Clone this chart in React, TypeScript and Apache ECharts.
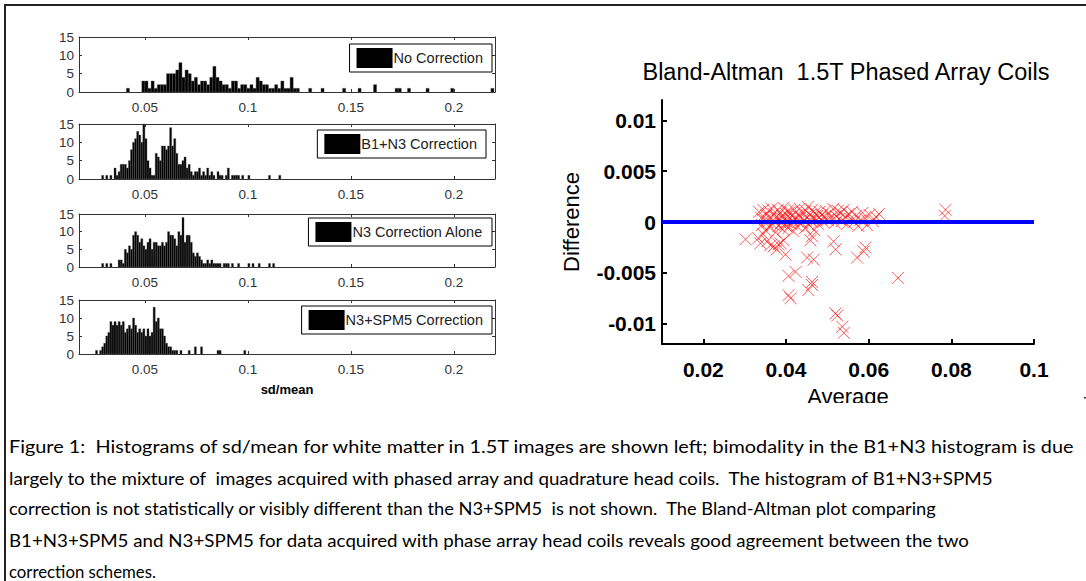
import { useEffect, useRef } from 'react';
import * as echarts from 'echarts';

const W = 1086;
const H = 581;
const FONT = "'Liberation Sans', Arial, Helvetica, sans-serif";

// ---------- Histogram data ----------
const HIST_NAMES = ['No Correction', 'B1+N3 Correction', 'N3 Correction Alone', 'N3+SPM5 Correction'];
const HIST_STARTS = [0.02, 0.029, 0.029, 0.026];
const HIST_BIN_WIDTHS = [0.0015, 0.001, 0.001, 0.001];

const NO_CORRECTION_COUNTS = [
  0, 0, 0, 0, 0, 0, 0, 0, 0, 0, 0, 0, 0, 0, 1, 0, 0, 0, 0,
  3, 3, 1, 3, 1, 2, 2, 2, 5, 5, 5, 6, 8, 4, 6, 5, 3, 4, 2, 3,
  3, 2, 4, 7, 4, 3, 2, 2, 1, 3, 3, 1, 2, 2, 1, 2, 1, 4, 3, 2,
  2, 1, 1, 2, 1, 3, 1, 1, 4, 1, 1,
  0, 0, 0, 1, 0, 0, 0, 1, 0, 0, 0, 0, 0, 0, 1, 0, 0, 0, 0, 1,
  0, 0, 0, 0, 2, 0, 0, 0, 0, 0, 0, 1, 1, 0, 0, 1, 0, 0, 0, 0,
  0, 1, 0, 0, 0, 0, 0, 0, 0, 1, 0, 0, 0, 0, 0, 0, 0, 0, 0, 0,
  0, 0, 1,
];
const B1N3_COUNTS = [
  1, 0, 1, 0, 1, 0, 3, 1, 2, 4,
  4, 4, 3, 5, 8, 10, 11, 13, 12, 10,
  15, 11, 5, 3, 1, 1, 7, 6, 5, 9,
  9, 8, 9, 14, 9, 11, 7, 4, 4, 5,
  6, 3, 4, 2, 1, 2, 2, 3, 1, 2,
  1, 3, 1, 2, 1, 0, 2, 1, 1, 0,
  1, 3, 0, 1, 1, 1, 1, 0, 1, 0,
  0, 1, 0, 0, 0, 0, 0, 0, 0, 0,
  0, 1, 0, 0, 0, 0, 1,
];
const N3_ALONE_COUNTS = [
  1, 0, 1, 0, 1, 0, 0, 0, 2, 2,
  1, 5, 4, 6, 5, 9, 10, 9, 7, 8,
  6, 5, 7, 8, 5, 7, 7, 6, 6, 7,
  6, 7, 10, 9, 9, 8, 6, 10, 9, 14,
  7, 9, 9, 7, 4, 3, 4, 3, 2, 1,
  1, 2, 1, 2, 1, 1, 1, 1, 0, 1,
  1, 1, 0, 1, 0, 0, 1, 0, 0, 0,
  0, 1, 0, 1, 0, 0, 1, 0, 0, 0,
  0, 1, 0, 1,
];
const N3SPM5_COUNTS = [
  1, 0, 1, 2, 3, 5, 6, 9, 8, 9,
  8, 9, 8, 9, 6, 7, 8, 7, 10, 8,
  6, 7, 6, 7, 5, 7, 5, 6, 13, 9,
  10, 7, 7, 5, 3, 2, 2, 1, 1, 1,
  0, 1, 0, 0, 0, 1, 0, 0, 2, 0,
  0, 2, 0, 0, 0, 0, 0, 0, 0, 1,
  1, 0, 0, 0, 0, 0, 0, 0, 0, 0,
  0, 0, 1,
];
const HIST_COUNTS = [NO_CORRECTION_COUNTS, B1N3_COUNTS, N3_ALONE_COUNTS, N3SPM5_COUNTS];
const HIST_X_TICKS = [0.05, 0.1, 0.15, 0.2];
const HIST_X_RANGE = [0.018, 0.22];
const HIST_Y_RANGE = [0, 15];

// ---------- Bland-Altman data: [average, difference] ----------
const BA_POINTS: [number, number][] = [
  [0.0335, 0.0010], [0.0340, 0.0004], [0.0342, -0.0003], [0.0345, 0.0012], [0.0348, 0.0002],
  [0.0350, -0.0008], [0.0352, 0.0007], [0.0355, 0.0000], [0.0358, 0.0011], [0.0360, -0.0005],
  [0.0362, 0.0004], [0.0365, 0.0013], [0.0367, -0.0002], [0.0370, 0.0008], [0.0372, 0.0001],
  [0.0375, -0.0010], [0.0377, 0.0005], [0.0380, 0.0012], [0.0382, -0.0004], [0.0384, 0.0003],
  [0.0386, 0.0009], [0.0388, -0.0001], [0.0390, 0.0006], [0.0392, -0.0007], [0.0394, 0.0014],
  [0.0396, 0.0002], [0.0398, -0.0003], [0.0400, 0.0008], [0.0402, 0.0000], [0.0404, 0.0011],
  [0.0406, -0.0006], [0.0408, 0.0004], [0.0410, 0.0010], [0.0412, -0.0002], [0.0414, 0.0006],
  [0.0416, 0.0001], [0.0418, -0.0009], [0.0420, 0.0012], [0.0423, 0.0003], [0.0426, -0.0004],
  [0.0428, 0.0007], [0.0430, 0.0000], [0.0433, 0.0013], [0.0436, 0.0005], [0.0438, -0.0001],
  [0.0440, 0.0009], [0.0443, 0.0002], [0.0446, -0.0006], [0.0448, 0.0011], [0.0450, 0.0004],
  [0.0453, 0.0015], [0.0456, -0.0003], [0.0458, 0.0007], [0.0460, 0.0001], [0.0463, 0.0012],
  [0.0466, 0.0005], [0.0468, -0.0008], [0.0470, 0.0009], [0.0473, 0.0002], [0.0476, 0.0006],
  [0.0478, -0.0002], [0.0481, 0.0010], [0.0484, 0.0003], [0.0487, 0.0007], [0.0490, 0.0000],
  [0.0493, 0.0005], [0.0496, 0.0011], [0.0500, 0.0002], [0.0505, 0.0008], [0.0510, 0.0004],
  [0.0514, 0.0013], [0.0518, -0.0001], [0.0521, 0.0006], [0.0525, 0.0011], [0.0528, 0.0003],
  [0.0532, 0.0009], [0.0536, 0.0001], [0.0540, 0.0012], [0.0544, 0.0005], [0.0548, -0.0002],
  [0.0552, 0.0008], [0.0556, 0.0003], [0.0560, 0.0010], [0.0565, 0.0000], [0.0570, 0.0006],
  [0.0575, -0.0004], [0.0580, 0.0002], [0.0585, 0.0009], [0.0590, 0.0004], [0.0596, -0.0003],
  [0.0602, 0.0007], [0.0610, 0.0001], [0.0618, 0.0005], [0.0625, 0.0008],
  [0.0786, 0.0012], [0.0784, 0.0006],
  [0.0302, -0.0017], [0.0333, -0.0016], [0.0338, -0.0021], [0.0345, -0.0012], [0.0355, -0.0019],
  [0.0362, -0.0023], [0.0370, -0.0024], [0.0378, -0.0027], [0.0382, -0.0022], [0.0387, -0.0021],
  [0.0394, -0.0018], [0.0399, -0.0032], [0.0459, -0.0018], [0.0463, -0.0014], [0.0515, -0.0019],
  [0.0520, -0.0027], [0.0451, -0.0035], [0.0467, -0.0037], [0.0572, -0.0035], [0.0588, -0.0029],
  [0.0592, -0.0025], [0.0406, -0.0053], [0.0423, -0.0049], [0.0463, -0.0059], [0.0454, -0.0067],
  [0.0463, -0.0062], [0.0406, -0.0072], [0.0411, -0.0075], [0.0671, -0.0055], [0.0520, -0.0090],
  [0.0524, -0.0092], [0.0536, -0.0103], [0.0540, -0.0109],
];
const BA_ZERO_LINE: [number, number][] = [[0.01, 0], [0.1, 0]];
const BA_X_TICKS = [0.02, 0.04, 0.06, 0.08, 0.1];
const BA_Y_TICKS = [-0.01, -0.005, 0, 0.005, 0.01];
const BA_X_RANGE = [0.01, 0.1];
const BA_Y_RANGE = [-0.012, 0.012];
const BA_TITLE = 'Bland-Altman  1.5T Phased Array Coils';

const CAPTION_LINES = [
  'Figure 1:  Histograms of sd/mean for white matter in 1.5T images are shown left; bimodality in the B1+N3 histogram is due',
  'largely to the mixture of  images acquired with phased array and quadrature head coils.  The histogram of B1+N3+SPM5',
  'correction is not statistically or visibly different than the N3+SPM5  is not shown.  The Bland-Altman plot comparing',
  'B1+N3+SPM5 and N3+SPM5 for data acquired with phase array head coils reveals good agreement between the two',
  'correction schemes.',
];

// ---------- Layout ----------
const HIST_LEFT = 79;
const HIST_WIDTH = 416;
const HIST_GRIDS = [
  { top: 37, height: 55 },
  { top: 124, height: 55 },
  { top: 214, height: 53 },
  { top: 300, height: 54 },
];
const LEGEND_POS = [
  { right: 492, top: 44 },
  { right: 486, top: 130 },
  { right: 492, top: 218 },
  { right: 492, top: 306 },
];
const CAPTION_X = 9;
const CAPTION_TOP = 447;
const CAPTION_STEP = 31;
const CAPTION_WIDTHS = [1068, 987, 930, 962, 147];

function textWidth(text: string, font: string) {
  const c = document.createElement('canvas').getContext('2d');
  if (!c) return text.length * 8;
  c.font = font;
  return c.measureText(text).width;
}

function buildOption() {
  const axisGray = '#333';
  const grid: any[] = HIST_GRIDS.map((g) => ({
    left: HIST_LEFT, top: g.top, width: HIST_WIDTH, height: g.height, outerBoundsMode: 'none',
  }));
  grid.push({ left: 662, top: 100, width: 372, height: 244, outerBoundsMode: 'none' });

  const xAxis: any[] = [];
  const yAxis: any[] = [];
  HIST_GRIDS.forEach((_, i) => {
    const common = {
      type: 'value', gridIndex: i, min: HIST_X_RANGE[0], max: HIST_X_RANGE[1],
      splitLine: { show: false },
      axisLine: { onZero: false, lineStyle: { color: axisGray, width: 1 } },
      axisTick: { inside: true, length: 3, customValues: HIST_X_TICKS, lineStyle: { color: axisGray } },
    };
    xAxis.push({
      ...common, position: 'bottom',
      axisLabel: {
        customValues: HIST_X_TICKS, formatter: (v: number) => String(v), margin: 8,
        fontSize: 13.5, color: axisGray, fontFamily: FONT,
      },
      ...(i === 3 ? {
        name: 'sd/mean', nameLocation: 'middle', nameGap: 29,
        nameTextStyle: { fontSize: 13, fontWeight: 'bold', color: '#000', fontFamily: FONT },
      } : {}),
    });
    xAxis.push({ ...common, position: 'top', axisLabel: { show: false } });
    const ycommon = {
      type: 'value', gridIndex: i, min: HIST_Y_RANGE[0], max: HIST_Y_RANGE[1], interval: 5,
      splitLine: { show: false },
      axisLine: { show: true, onZero: false, lineStyle: { color: axisGray, width: 1 } },
      axisTick: { show: true, inside: true, length: 3, lineStyle: { color: axisGray } },
    };
    yAxis.push({
      ...ycommon, position: 'left',
      axisLabel: { margin: 5, fontSize: 13.5, color: axisGray, fontFamily: FONT },
    });
    yAxis.push({ ...ycommon, position: 'right', axisLabel: { show: false } });
  });

  xAxis.push({
    type: 'value', gridIndex: 4, position: 'bottom', min: BA_X_RANGE[0], max: BA_X_RANGE[1],
    splitLine: { show: false },
    axisLine: { onZero: false, lineStyle: { color: '#000', width: 2 } },
    axisTick: { inside: true, length: 5, customValues: BA_X_TICKS, lineStyle: { color: '#000', width: 2 } },
    axisLabel: {
      customValues: BA_X_TICKS, formatter: (v: number) => String(v), margin: 15,
      fontSize: 21, fontWeight: 'bold', color: '#000', fontFamily: FONT,
    },
    name: 'Average', nameLocation: 'middle', nameGap: 41,
    nameTextStyle: { fontSize: 22, color: '#000', fontFamily: FONT },
  });
  yAxis.push({
    type: 'value', gridIndex: 4, position: 'left', min: BA_Y_RANGE[0], max: BA_Y_RANGE[1],
    splitLine: { show: false },
    axisLine: { show: true, onZero: false, lineStyle: { color: '#000', width: 2 } },
    axisTick: { show: true, inside: true, length: 5, customValues: BA_Y_TICKS, lineStyle: { color: '#000', width: 2 } },
    axisLabel: {
      customValues: BA_Y_TICKS, formatter: (v: number) => String(+v.toFixed(4)), margin: 6,
      fontSize: 21, fontWeight: 'bold', color: '#000', fontFamily: FONT,
    },
    name: 'Difference', nameLocation: 'middle', nameGap: 80, nameRotate: 90,
    nameTextStyle: { fontSize: 22, color: '#000', fontFamily: FONT },
  });

  const series: any[] = HIST_COUNTS.map((counts, i) => {
    const start = HIST_STARTS[i];
    const w = HIST_BIN_WIDTHS[i];
    const data = counts
      .map((c, k) => [start + k * w, start + (k + 1) * w, c])
      .filter((d) => d[2] > 0);
    return {
      type: 'custom', name: HIST_NAMES[i], xAxisIndex: 2 * i, yAxisIndex: 2 * i,
      itemStyle: { color: '#000' },
      encode: { x: [0, 1], y: 2 },
      silent: true,
      data,
      renderItem: (_p: any, api: any) => {
        const a = api.coord([api.value(0), api.value(2)]);
        const b = api.coord([api.value(1), 0]);
        return {
          type: 'rect',
          shape: { x: a[0], y: a[1], width: b[0] - a[0], height: b[1] - a[1] },
          style: { fill: '#000', stroke: '#555', lineWidth: 0.4 },
        };
      },
    };
  });
  series.push({
    type: 'scatter', name: 'BA', xAxisIndex: 8, yAxisIndex: 8,
    data: BA_POINTS,
    symbol: 'path://M0,0L10,10M10,0L0,10',
    symbolSize: 12,
    itemStyle: { color: 'rgba(0,0,0,0)', borderColor: 'rgba(255,0,0,0.8)', borderWidth: 1 },
    emphasis: { disabled: true },
    silent: true,
    z: 2,
  });
  series.push({
    type: 'line', name: 'zero', xAxisIndex: 8, yAxisIndex: 8,
    data: BA_ZERO_LINE, symbol: 'none',
    lineStyle: { color: '#0000ff', width: 4 },
    silent: true, z: 5,
  });

  const legend = HIST_NAMES.map((name, i) => ({
    data: [{ name, icon: 'rect', itemStyle: { color: '#000' } }],
    right: W - LEGEND_POS[i].right, top: LEGEND_POS[i].top,
    itemWidth: 36, itemHeight: 20, padding: [4, 9, 4, 7],
    borderColor: '#000', borderWidth: 1, backgroundColor: '#fff',
    selectedMode: false,
    textStyle: { fontSize: 14.5, color: '#222', fontFamily: FONT, padding: [0, 0, 0, -4] },
  }));

  const captionFont = 'Lato';
  const captionSize = 17;
  const captionTexts = CAPTION_LINES.map((t, i) => ({
    type: 'text', x: CAPTION_X, y: CAPTION_TOP + CAPTION_STEP * i, z: 50,
    scaleX: CAPTION_WIDTHS[i] / textWidth(t, `${captionSize}px ${captionFont}`),
    style: { text: t, fontFamily: captionFont, fontSize: captionSize, fill: '#000', verticalAlign: 'middle' },
  }));

  const graphic = [
    { type: 'line', z: 50, shape: { x1: 4, y1: 5, x2: W, y2: 5 }, style: { stroke: '#222', lineWidth: 2 } },
    { type: 'line', z: 50, shape: { x1: 5, y1: 4, x2: 5, y2: H }, style: { stroke: '#222', lineWidth: 2 } },
    { type: 'rect', z: 50, shape: { x: 1084, y: 397, width: 2, height: 1.5 }, style: { fill: '#333' } },
    {
      type: 'text', x: 846, y: 72, z: 50,
      style: { text: BA_TITLE, fontFamily: FONT, fontSize: 23.5, fill: '#000', align: 'center', verticalAlign: 'middle' },
    },
    { type: 'rect', z: 100, shape: { x: 770, y: 403, width: 150, height: 20 }, style: { fill: '#fff' } },
    ...captionTexts,
  ];

  return {
    animation: false,
    backgroundColor: '#fff',
    textStyle: { fontFamily: FONT },
    grid, xAxis, yAxis, series, legend, graphic,
  };
}

export default function App() {
  const ref = useRef<HTMLDivElement>(null);
  useEffect(() => {
    if (!ref.current) return;
    const chart = echarts.init(ref.current, undefined, { renderer: 'svg', width: W, height: H });
    chart.setOption(buildOption() as any);
    return () => chart.dispose();
  }, []);
  return (
    <div
      ref={ref}
      style={{ position: 'fixed', left: 0, top: 0, width: W, height: H, background: '#fff' }}
    />
  );
}
